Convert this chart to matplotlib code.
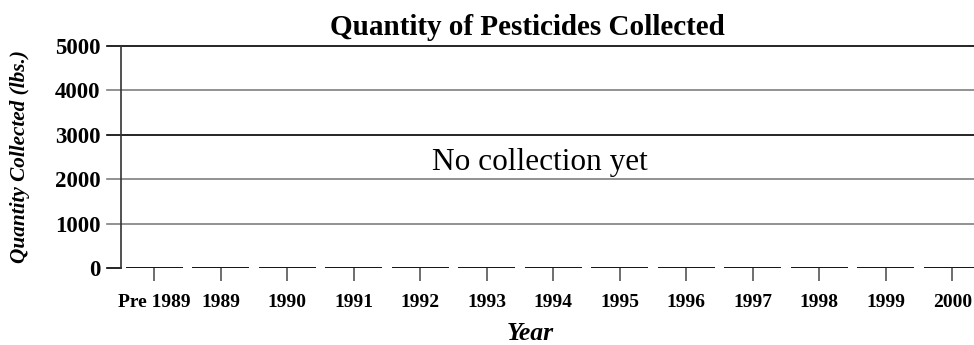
import matplotlib
matplotlib.use("Agg")
import matplotlib.pyplot as plt

# Collection data: no pesticides collected in any year yet
categories = ["Pre 1989", "1989", "1990", "1991", "1992", "1993", "1994",
              "1995", "1996", "1997", "1998", "1999", "2000"]
quantities = [0, 0, 0, 0, 0, 0, 0, 0, 0, 0, 0, 0, 0]
y_ticks = [0, 1000, 2000, 3000, 4000, 5000]

plt.rcParams["font.family"] = ["Liberation Serif", "DejaVu Serif"]

fig = plt.figure(figsize=(9.74, 3.45), dpi=100)
ax = fig.add_axes([121 / 974, 1 - 268 / 345, 13 * 66.5 / 974, 222 / 345])

x = list(range(len(categories)))
ax.bar(x, quantities, width=0.86, facecolor="white", edgecolor="black",
       linewidth=1.3, zorder=3)

ax.set_xlim(-0.5, len(categories) - 0.5)
ax.set_ylim(0, 5000)
ax.set_yticks(y_ticks)
ax.set_yticklabels([str(v) for v in y_ticks], fontsize=16.5, fontweight="bold")
ax.set_xticks(x)
ax.set_xticklabels(categories, fontsize=14, fontweight="bold")

# horizontal gridlines that run through the outward tick marks
grid_colors = {1000: "#7f7f7f", 2000: "#7f7f7f", 3000: "black",
               4000: "#7f7f7f", 5000: "black"}
for v in y_ticks[1:]:
    ax.axhline(v, color=grid_colors[v], linewidth=1.2, zorder=1,
               clip_on=False, xmin=-14 / (13 * 66.5))
ax.tick_params(axis="y", length=0, pad=15)
ax.plot([-14 / 66.5 - 0.5, -0.5], [0, 0], color="black", lw=1.2,
        clip_on=False, zorder=2)
ax.tick_params(axis="x", direction="out", length=9, width=1.2,
               color="#555555", pad=10)

for side in ("top", "right", "bottom"):
    ax.spines[side].set_visible(False)
ax.spines["left"].set_color("#333333")
ax.spines["left"].set_linewidth(1.2)

fig.text(527 / 974, 1 - 35 / 345, "Quantity of Pesticides Collected",
         fontsize=21, fontweight="bold", ha="center", va="baseline")
ax.text((540 - 121) / 66.5 - 0.5, 2365, "No collection yet", fontsize=22.5,
        ha="center", va="center")
fig.text(530 / 974, 1 - 340 / 345, "Year", fontsize=18.5, fontweight="bold",
         fontstyle="italic", ha="center", va="baseline")
fig.text(20 / 974, 1 - 156.5 / 345, "Quantity Collected (lbs.)",
         fontsize=15.3, fontweight="bold", fontstyle="italic", rotation=90,
         ha="center", va="center")

fig.savefig("out.png", dpi=100)
